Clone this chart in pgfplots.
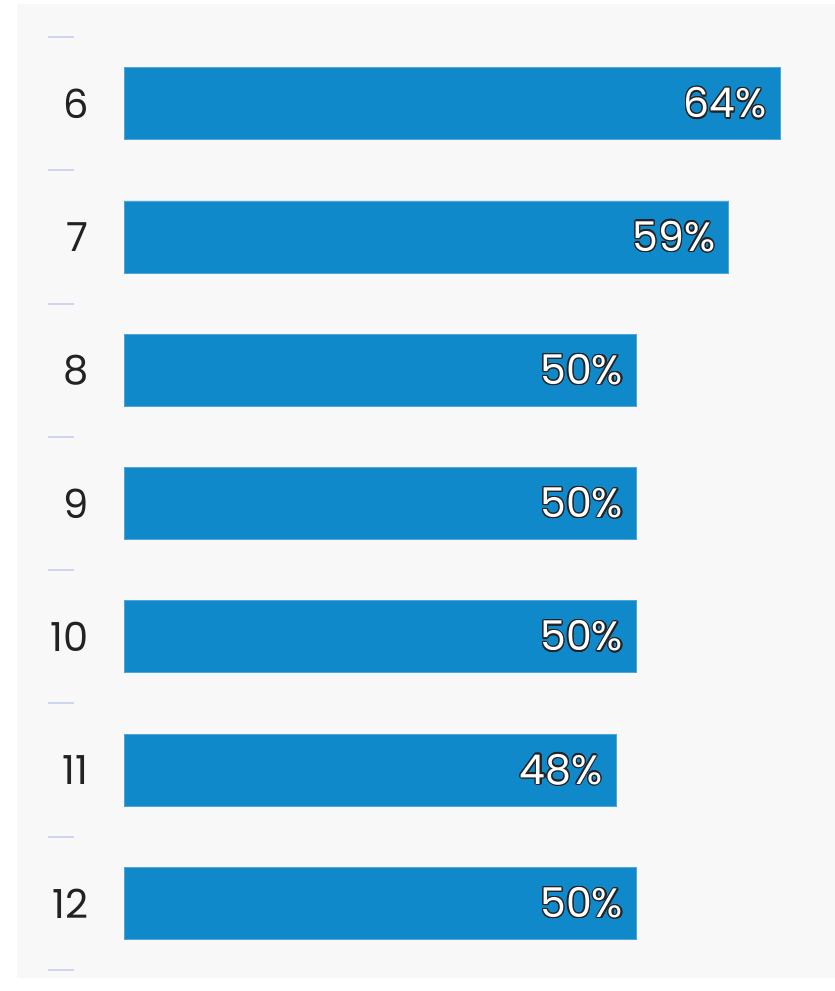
\documentclass[border=0pt]{standalone}
\usepackage{fontspec}
\setmainfont{Poppins}
\usepackage{pgfplots}
\pgfplotsset{compat=1.18}
\usepackage{contour}
\contourlength{1.3bp}

\definecolor{barblue}{RGB}{16,137,203}
\definecolor{baredge}{RGB}{80,165,215}
\definecolor{panel}{RGB}{248,248,249}
\definecolor{sepcol}{RGB}{205,214,238}
\definecolor{labcol}{RGB}{34,34,34}
\definecolor{outcol}{RGB}{35,35,35}

\newcommand\tickf{\fontsize{40bp}{46bp}\selectfont}
\newcommand\valf{\fontsize{41bp}{47bp}\selectfont}
\newcommand\sep{\textcolor{sepcol}{\rule{26bp}{2bp}}\kern15bp}

\begin{document}
\begin{tikzpicture}
\useasboundingbox (0,0) rectangle (835bp,991bp);
\fill[white] (0,0) rectangle (835bp,991bp);
\fill[panel] (17bp,13bp) rectangle (835bp,987bp);
\begin{axis}[
  at={(124bp,21bp)}, anchor=south west,
  scale only axis, width=711bp, height=933bp,
  xbar, bar width=72bp,
  xmin=0, xmax=69.366,
  ymin=5.5, ymax=12.5, y dir=reverse,
  ytick={6,7,8,9,10,11,12},
  yticklabels={6,7,8,9,10,11,12},
  extra y ticks={5.5,6.5,7.5,8.5,9.5,10.5,11.5,12.5},
  extra y tick labels={\sep,\sep,\sep,\sep,\sep,\sep,\sep,\sep},
  xtick=\empty,
  ytick style={draw=none},
  axis line style={draw=none},
  yticklabel style={anchor=east, inner sep=0pt, xshift=-31bp, font=\tickf, text=labcol},
  /pgf/number format/assume math mode=true,
  nodes near coords={\contour{outcol}{\pgfmathprintnumber{\pgfplotspointmeta}\%}},
  nodes near coords align={left},
  every node near coord/.append style={anchor=east, inner sep=0pt, xshift=-13bp, font=\valf, text=white},
]
\addplot[fill=barblue, draw=baredge, line width=0.8bp] coordinates {
  (64,6) (59,7) (50,8) (50,9) (50,10) (48,11) (50,12)
};
\end{axis}
\end{tikzpicture}
\end{document}
